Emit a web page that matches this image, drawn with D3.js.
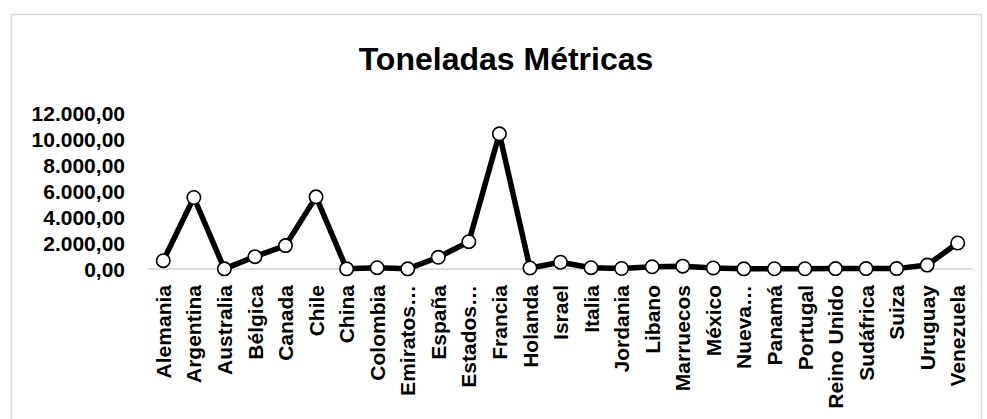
<!DOCTYPE html>
<html>
<head>
<meta charset="utf-8">
<script src="https://cdn.jsdelivr.net/npm/d3@7"></script>
<style>
  html, body { margin: 0; padding: 0; background: #fff; }
  svg { display: block; }
  text { font-family: "Liberation Sans", Arial, sans-serif; font-weight: bold; fill: #000; }
</style>
</head>
<body>
<svg id="chart" width="987" height="419"></svg>
<script>
// Export destinations and tonnage shipped to each
const countries = [
  "Alemania", "Argentina", "Australia", "Bélgica", "Canada", "Chile", "China",
  "Colombia", "Emiratos…", "España", "Estados…", "Francia", "Holanda", "Israel",
  "Italia", "Jordania", "Libano", "Marruecos", "México", "Nueva…", "Panamá",
  "Portugal", "Reino Unido", "Sudáfrica", "Suiza", "Uruguay", "Venezuela"
];
const tonnes = [
  640, 5500, 10, 950, 1800, 5550, 10,
  100, 10, 900, 2100, 10400, 80, 520,
  100, 40, 170, 220, 80, 10, 20,
  20, 30, 30, 30, 300, 2000
];
const yTicks = [0, 2000, 4000, 6000, 8000, 10000, 12000];
const chartTitle = "Toneladas Métricas";

const svg = d3.select("#chart");
const plot = { left: 148, right: 973, top: 113, bottom: 269 };

// Outer chart frame
svg.append("rect")
  .attr("x", 11.5).attr("y", 14.5)
  .attr("width", 970).attr("height", 420)
  .attr("fill", "none").attr("stroke", "#d9d9d9").attr("stroke-width", 1.5);

svg.append("text")
  .attr("x", 506).attr("y", 70)
  .attr("text-anchor", "middle")
  .style("font-size", "32px")
  .text(chartTitle);

const x = d3.scaleBand().domain(countries).range([plot.left, plot.right]);
const y = d3.scaleLinear().domain([0, 12000]).range([plot.bottom, plot.top]);

// es-ES style number formatting: 12.000,00
const esLocale = d3.formatLocale({ decimal: ",", thousands: ".", grouping: [3], currency: ["", "€"] });
const fmt = esLocale.format(",.2f");

// Value axis labels (no line, no ticks)
const yAxis = svg.append("g")
  .attr("transform", `translate(${125},0)`)
  .call(d3.axisLeft(y).tickValues(yTicks).tickFormat(fmt).tickSize(0).tickPadding(0));
yAxis.select(".domain").remove();
yAxis.selectAll("text")
  .style("font-size", "21px")
  .style("font-family", null)
  .attr("dy", "0.35em");

// Baseline at zero
svg.append("line")
  .attr("x1", plot.left).attr("x2", plot.right)
  .attr("y1", y(0)).attr("y2", y(0))
  .attr("stroke", "#d0d0d0").attr("stroke-width", 1.5);

// Category labels, rotated
const xAxis = svg.append("g")
  .attr("transform", `translate(0,${285})`)
  .call(d3.axisBottom(x).tickSize(0).tickPadding(0));
xAxis.select(".domain").remove();
xAxis.selectAll("text")
  .style("font-size", "21px")
  .style("font-family", null)
  .attr("text-anchor", "end")
  .attr("transform", "rotate(-90)")
  .attr("x", 0)
  .attr("y", 0)
  .attr("dy", "0.36em");

const cx = d => x(d) + x.bandwidth() / 2;
const pts = countries.map((c, i) => [cx(c), y(tonnes[i])]);

svg.append("path")
  .attr("d", d3.line()(pts))
  .attr("fill", "none")
  .attr("stroke", "#000")
  .attr("stroke-width", 5.5)
  .attr("stroke-linejoin", "round");

svg.append("g").selectAll("circle")
  .data(pts)
  .join("circle")
  .attr("cx", d => d[0])
  .attr("cy", d => d[1])
  .attr("r", 6.7)
  .attr("fill", "#fff")
  .attr("stroke", "#000")
  .attr("stroke-width", 1.6);
</script>
</body>
</html>
